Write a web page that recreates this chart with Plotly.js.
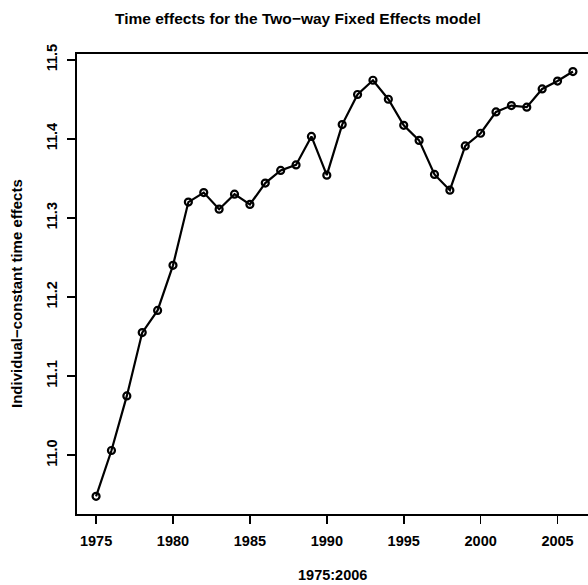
<!DOCTYPE html>
<html>
<head>
<meta charset="utf-8">
<script src="https://cdn.plot.ly/plotly-3.0.1.min.js"></script>
<style>html,body{margin:0;padding:0;overflow:hidden;background:#fff;}#chart{width:593px;height:585px;}</style>
</head>
<body>
<div id="chart"></div>
<script>
const years = [1975,1976,1977,1978,1979,1980,1981,1982,1983,1984,1985,1986,1987,1988,1989,1990,
               1991,1992,1993,1994,1995,1996,1997,1998,1999,2000,2001,2002,2003,2004,2005,2006];
const effects = [10.948,11.006,11.075,11.155,11.183,11.240,11.320,11.332,11.311,11.330,11.317,11.344,
                 11.360,11.367,11.403,11.354,11.418,11.456,11.474,11.450,11.417,11.398,11.355,11.335,
                 11.391,11.407,11.434,11.442,11.440,11.463,11.473,11.485];
const xTicks = [1975,1980,1985,1990,1995,2000,2005];
const yTicks = [11.0,11.1,11.2,11.3,11.4,11.5];
const yTickText = ['11.0','11.1','11.2','11.3','11.4','11.5'];

const F = 'Liberation Sans, Arial, sans-serif';

const trace = {
  x: years, y: effects, type: 'scatter', mode: 'lines+markers',
  line: {color: '#000', width: 2.2},
  marker: {symbol: 'circle-open', size: 7, color: '#000', line: {color: '#000', width: 2.2}},
  hoverinfo: 'skip'
};

const layout = {
  width: 593, height: 585,
  margin: {l: 77, r: 1, t: 54, b: 71},
  paper_bgcolor: '#fff', plot_bgcolor: '#fff',
  showlegend: false,
  font: {family: F, color: '#000', size: 15},
  xaxis: {
    range: [1973.76, 2007.24], tickvals: xTicks, ticktext: xTicks.map(String),
    ticks: 'outside', ticklen: 8, tickwidth: 1.7, tickcolor: '#000',
    showline: true, linecolor: '#000', linewidth: 1.7, mirror: true,
    showgrid: false, zeroline: false,
    tickfont: {family: F, size: 14.5, color: '#000', weight: 'bold'},
    ticklabelstandoff: 5
  },
  yaxis: {
    range: [10.9257, 11.5072], tickvals: yTicks, ticktext: yTickText, tickangle: -90,
    ticks: 'outside', ticklen: 8, tickwidth: 1.7, tickcolor: '#000',
    showline: true, linecolor: '#000', linewidth: 1.7, mirror: true,
    showgrid: false, zeroline: false,
    tickfont: {family: F, size: 14.5, color: '#000', weight: 'bold'},
    ticklabelstandoff: 5
  },
  annotations: [
    {text: '<b>Time effects for the Two\u2212way Fixed Effects model</b>', xref: 'paper', yref: 'paper',
     x: (298-77)/515, y: 1 + (54-18)/460, xanchor: 'center', yanchor: 'middle', showarrow: false,
     font: {family: F, size: 15.5, color: '#000'}},
    {text: '<b>1975:2006</b>', xref: 'paper', yref: 'paper',
     x: (332-77)/515, y: -(575-514)/460, xanchor: 'center', yanchor: 'middle', showarrow: false,
     font: {family: F, size: 14.5, color: '#000'}},
    {text: '<b>Individual\u2212constant time effects</b>', xref: 'paper', yref: 'paper',
     x: -(77-16)/515, y: (514-294)/460, xanchor: 'center', yanchor: 'middle', showarrow: false,
     textangle: -90, font: {family: F, size: 15, color: '#000'}}
  ]
};

Plotly.newPlot('chart', [trace], layout, {displayModeBar: false, staticPlot: true});
</script>
</body>
</html>
